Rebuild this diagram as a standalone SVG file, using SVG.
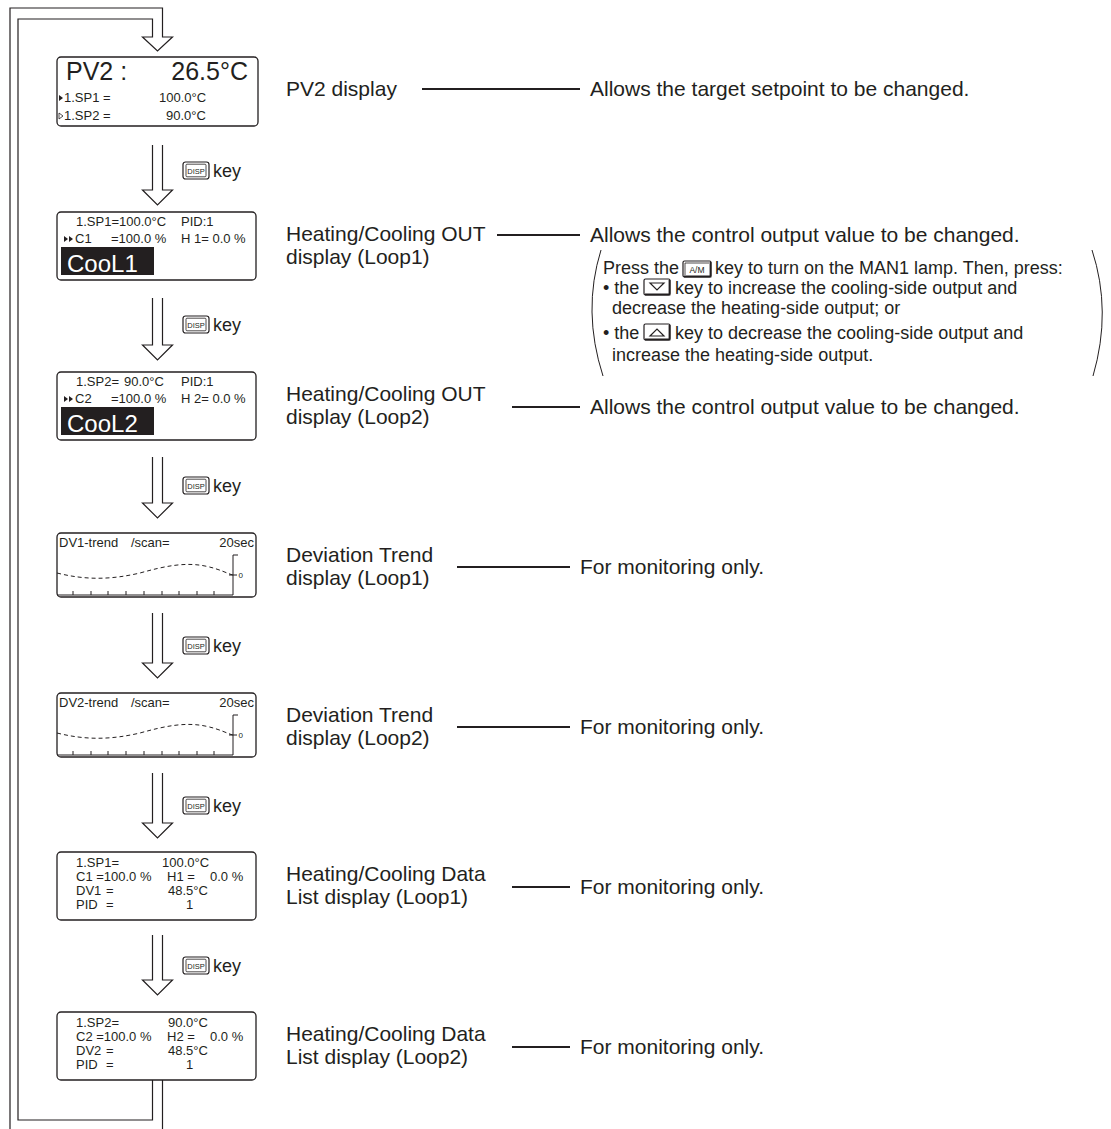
<svg xmlns="http://www.w3.org/2000/svg" width="1111" height="1129" viewBox="0 0 1111 1129">
<style>
  text{font-family:"Liberation Sans",Arial,Helvetica,sans-serif;fill:#231f20}
  .lbl{font-size:21px}
  .key{font-size:18px}
  .par{font-size:18px}
  .sm{font-size:13px}
  .xs{font-size:13px}
  .big{font-size:25px}
  .cool{font-size:24px;fill:#fff}
  .box{fill:#fff;stroke:#231f20;stroke-width:1.3}
  .arr{fill:#fff;stroke:#231f20;stroke-width:1.2;stroke-linejoin:miter}
  .ln{stroke:#231f20;stroke-width:2;fill:none}
  .thin{stroke:#231f20;stroke-width:1;fill:none}
  .dash{stroke:#231f20;stroke-width:1;fill:none;stroke-dasharray:4 3}
  .kout{fill:#fff;stroke:#231f20;stroke-width:1.2}
  .kin{fill:none;stroke:#231f20;stroke-width:0.8}
  .kt{font-size:7.5px;text-anchor:middle}
</style>
<defs>
  <g id="disp">
    <rect class="kout" x="0" y="0" width="26" height="17" rx="2.5"/>
    <rect class="kin" x="3" y="2.2" width="20" height="12.6" rx="1"/>
    <text class="kt" x="13" y="11.6">DISP</text>
  </g>
  <g id="trendbody">
    <path class="dash" d="M57,40 C85,47 110,47 140,40 C165,33 185,29 205,33 C220,36 228,41 233,42"/>
    <path class="thin" d="M233,62 V22 H238 M229,42 H237"/>
    <text x="238.5" y="45" style="font-size:8px">0</text>
    <path class="thin" d="M57,62 H233 M73,62 V58 M91,62 V58 M108,62 V58 M126,62 V58 M144,62 V58 M162,62 V58 M179,62 V58 M197,62 V58 M214,62 V58"/>
  </g>
</defs>

<!-- connectors: loop and block arrows -->
<g id="connectors">
  <path class="arr" d="M10,1129 V8 H162.5 V37 H172.5 L157.5,51 L142.5,37 H152.5 V19 H18 V1120 H152.5 V1080 M162.5,1080 V1129" fill="none"/>
  <path class="arr" d="M152.5,145 V190 H142.5 L157.5,205 L172.5,190 H162.5 V145"/>
  <path class="arr" d="M152.5,298 V345 H142.5 L157.5,360 L172.5,345 H162.5 V298"/>
  <path class="arr" d="M152.5,457 V503 H142.5 L157.5,518 L172.5,503 H162.5 V457"/>
  <path class="arr" d="M152.5,613 V663 H142.5 L157.5,678 L172.5,663 H162.5 V613"/>
  <path class="arr" d="M152.5,773 V823 H142.5 L157.5,838 L172.5,823 H162.5 V773"/>
  <path class="arr" d="M152.5,935 V980 H142.5 L157.5,995 L172.5,980 H162.5 V935"/>
  <line class="ln" x1="422" y1="89" x2="580" y2="89"/>
  <line class="ln" x1="497" y1="235" x2="580" y2="235"/>
  <line class="ln" x1="512" y1="407" x2="580" y2="407"/>
  <line class="ln" x1="457" y1="567" x2="570" y2="567"/>
  <line class="ln" x1="457" y1="727" x2="570" y2="727"/>
  <line class="ln" x1="512" y1="887" x2="570" y2="887"/>
  <line class="ln" x1="512" y1="1047" x2="570" y2="1047"/>
</g>

<!-- keys -->
<g id="keys">
  <use href="#disp" x="183" y="162"/><text class="key" x="213" y="177">key</text>
  <use href="#disp" x="183" y="316"/><text class="key" x="213" y="331">key</text>
  <use href="#disp" x="183" y="477"/><text class="key" x="213" y="492">key</text>
  <use href="#disp" x="183" y="637"/><text class="key" x="213" y="652">key</text>
  <use href="#disp" x="183" y="797"/><text class="key" x="213" y="812">key</text>
  <use href="#disp" x="183" y="957"/><text class="key" x="213" y="972">key</text>
</g>

<!-- node 1: PV2 -->
<g id="pv2">
  <rect class="box" x="57" y="57" width="201" height="69" rx="4"/>
  <text class="big" x="66" y="80">PV2 :</text>
  <text class="big" x="248" y="80" text-anchor="end">26.5°C</text>
  <polygon points="59,95 63,98 59,101" fill="#231f20"/>
  <text class="xs" x="64" y="102">1.SP1 =</text>
  <text class="xs" x="159" y="102">100.0°C</text>
  <polygon points="59,113 63,116 59,119" fill="none" stroke="#231f20" stroke-width="0.8"/>
  <text class="xs" x="64" y="120">1.SP2 =</text>
  <text class="xs" x="166" y="120">90.0°C</text>
  <text class="lbl" x="286" y="96">PV2 display</text>
  <text class="lbl" x="590" y="96">Allows the target setpoint to be changed.</text>
</g>

<!-- node 2: CooL1 -->
<g id="cool1">
  <rect class="box" x="57" y="212" width="199" height="68" rx="4"/>
  <text class="sm" x="76" y="226">1.SP1=100.0°C</text>
  <text class="sm" x="181" y="226">PID:1</text>
  <polygon points="64,236 68,239 64,242" fill="#231f20"/><polygon points="69,236 73,239 69,242" fill="#231f20"/>
  <text class="sm" x="75" y="243">C1</text>
  <text class="sm" x="111" y="243">=100.0 %</text>
  <text class="sm" x="181" y="243">H 1= 0.0 %</text>
  <rect x="61" y="247" width="93" height="28" fill="#231f20"/>
  <text class="cool" x="67" y="272">CooL1</text>
  <text class="lbl" x="286" y="241">Heating/Cooling OUT</text>
  <text class="lbl" x="286" y="264">display (Loop1)</text>
  <text class="lbl" x="590" y="242">Allows the control output value to be changed.</text>
</g>

<!-- parenthetical note -->
<g id="note">
  <path class="thin" d="M601,250 Q582,311 603,376"/>
  <path class="thin" d="M1092,250 Q1112,311 1093,376"/>
  <text class="par" x="603" y="274">Press the</text>
  <rect class="kout" x="683" y="261" width="28" height="16" rx="1.5"/>
  <path class="kin" d="M685,275 V263 H709"/><path d="M710.5,262 V276.5 H684" stroke="#231f20" stroke-width="1.8" fill="none"/>
  <text x="697" y="272.5" style="font-size:8.5px" text-anchor="middle">A/M</text>
  <text class="par" x="715" y="274">key to turn on the MAN1 lamp. Then, press:</text>

  <text class="par" x="603" y="294">• the</text>
  <rect class="kout" x="644" y="279" width="26" height="16" rx="1.5"/>
  <path d="M669.5,280 V294.5 H645" stroke="#231f20" stroke-width="1.8" fill="none"/>
  <polygon points="650,283 664,283 657,290" fill="none" stroke="#231f20" stroke-width="1.2"/>
  <text class="par" x="675" y="294">key to increase the cooling-side output and</text>
  <text class="par" x="612" y="314">decrease the heating-side output; or</text>

  <text class="par" x="603" y="339">• the</text>
  <rect class="kout" x="644" y="324" width="26" height="16" rx="1.5"/>
  <path d="M669.5,325 V339.5 H645" stroke="#231f20" stroke-width="1.8" fill="none"/>
  <polygon points="650,336 664,336 657,329" fill="none" stroke="#231f20" stroke-width="1.2"/>
  <text class="par" x="675" y="339">key to decrease the cooling-side output and</text>
  <text class="par" x="612" y="361">increase the heating-side output.</text>
</g>

<!-- node 3: CooL2 -->
<g id="cool2">
  <rect class="box" x="57" y="372" width="199" height="68" rx="4"/>
  <text class="sm" x="76" y="386">1.SP2=</text>
  <text class="sm" x="124" y="386">90.0°C</text>
  <text class="sm" x="181" y="386">PID:1</text>
  <polygon points="64,396 68,399 64,402" fill="#231f20"/><polygon points="69,396 73,399 69,402" fill="#231f20"/>
  <text class="sm" x="75" y="403">C2</text>
  <text class="sm" x="111" y="403">=100.0 %</text>
  <text class="sm" x="181" y="403">H 2= 0.0 %</text>
  <rect x="61" y="407" width="93" height="28" fill="#231f20"/>
  <text class="cool" x="67" y="432">CooL2</text>
  <text class="lbl" x="286" y="401">Heating/Cooling OUT</text>
  <text class="lbl" x="286" y="424">display (Loop2)</text>
  <text class="lbl" x="590" y="414">Allows the control output value to be changed.</text>
</g>

<!-- node 4: DV1 trend -->
<g id="dv1trend">
  <rect class="box" x="57" y="533" width="199" height="64" rx="4"/>
  <text class="sm" x="59" y="547">DV1-trend</text>
  <text class="sm" x="131" y="547">/scan=</text>
  <text class="sm" x="254" y="547" text-anchor="end">20sec</text>
  <use href="#trendbody" x="0" y="533"/>
  <text class="lbl" x="286" y="562">Deviation Trend</text>
  <text class="lbl" x="286" y="585">display (Loop1)</text>
  <text class="lbl" x="580" y="574">For monitoring only.</text>
</g>

<!-- node 5: DV2 trend -->
<g id="dv2trend">
  <rect class="box" x="57" y="693" width="199" height="64" rx="4"/>
  <text class="sm" x="59" y="707">DV2-trend</text>
  <text class="sm" x="131" y="707">/scan=</text>
  <text class="sm" x="254" y="707" text-anchor="end">20sec</text>
  <use href="#trendbody" x="0" y="693"/>
  <text class="lbl" x="286" y="722">Deviation Trend</text>
  <text class="lbl" x="286" y="745">display (Loop2)</text>
  <text class="lbl" x="580" y="734">For monitoring only.</text>
</g>

<!-- node 6: data list loop1 -->
<g id="list1">
  <rect class="box" x="57" y="852" width="199" height="68" rx="4"/>
  <text class="sm" x="76" y="867">1.SP1=</text><text class="sm" x="162" y="867">100.0°C</text>
  <text class="sm" x="76" y="881">C1 =100.0 %</text><text class="sm" x="167" y="881">H1 =</text><text class="sm" x="210" y="881">0.0 %</text>
  <text class="sm" x="76" y="895">DV1</text><text class="sm" x="106" y="895">=</text><text class="sm" x="168" y="895">48.5°C</text>
  <text class="sm" x="76" y="909">PID</text><text class="sm" x="106" y="909">=</text><text class="sm" x="186" y="909">1</text>
  <text class="lbl" x="286" y="881">Heating/Cooling Data</text>
  <text class="lbl" x="286" y="904">List display (Loop1)</text>
  <text class="lbl" x="580" y="894">For monitoring only.</text>
</g>

<!-- node 7: data list loop2 -->
<g id="list2">
  <rect class="box" x="57" y="1012" width="199" height="68" rx="4"/>
  <text class="sm" x="76" y="1027">1.SP2=</text><text class="sm" x="168" y="1027">90.0°C</text>
  <text class="sm" x="76" y="1041">C2 =100.0 %</text><text class="sm" x="167" y="1041">H2 =</text><text class="sm" x="210" y="1041">0.0 %</text>
  <text class="sm" x="76" y="1055">DV2</text><text class="sm" x="106" y="1055">=</text><text class="sm" x="168" y="1055">48.5°C</text>
  <text class="sm" x="76" y="1069">PID</text><text class="sm" x="106" y="1069">=</text><text class="sm" x="186" y="1069">1</text>
  <text class="lbl" x="286" y="1041">Heating/Cooling Data</text>
  <text class="lbl" x="286" y="1064">List display (Loop2)</text>
  <text class="lbl" x="580" y="1054">For monitoring only.</text>
</g>
</svg>
